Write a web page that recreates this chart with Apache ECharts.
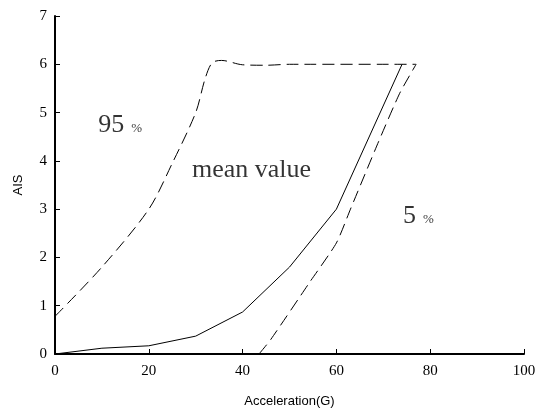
<!DOCTYPE html>
<html><head><meta charset="utf-8">
<script src="https://cdn.jsdelivr.net/npm/echarts@6/dist/echarts.min.js"></script>
<style>html,body{margin:0;padding:0;background:#fff}#c{width:539px;height:414px}</style>
</head><body><div id="c"></div>
<script>
var xTicks = [0, 20, 40, 60, 80, 100];
var yTicks = [0, 1, 2, 3, 4, 5, 6, 7];
var meanValue = [[0,0],[10,0.12],[20,0.17],[30,0.37],[40,0.87],[50,1.8],[60,3.0],[74,6.0]];
var p95 = [[0,0.78],[10,1.8],[20,3.0],[25,3.95],[30,5.0],[32,5.7],[33.5,6.03],[35.5,6.08],[40,5.99],[45,5.98],[50,6.0],[77,6.0]];
var p5 = [[43.5,0],[46,0.3],[54.4,1.5],[60,2.3],[63,3.0],[69,4.4],[73.5,5.4],[77,6.0]];
var annotations = [
  {x: 9.2, y: 4.6, big: '95', small: '%'},
  {x: 29.2, y: 3.66, big: 'mean value', small: ''},
  {x: 74.2, y: 2.71, big: '5', small: '%'}
];

var chart = echarts.init(document.getElementById('c'));
var serif = '"Liberation Serif", "Times New Roman", serif';
var sans = '"Liberation Sans", Arial, sans-serif';
var lineSty = function(t){ return {color:'#000', width:1, type:t}; };
chart.setOption({
  animation: false,
  grid: {left: 55, right: 15, top: 16, bottom: 60},
  xAxis: {
    type: 'value', min: xTicks[0], max: xTicks[xTicks.length-1], interval: 20,
    name: 'Acceleration(G)', nameLocation: 'middle', nameGap: 41,
    nameTextStyle: {fontFamily: sans, fontSize: 13, color: '#000'},
    axisLine: {lineStyle: {color: '#000', width: 2}},
    axisTick: {inside: true, length: 5, lineStyle: {color:'#000', width:1}},
    axisLabel: {fontFamily: serif, fontSize: 15, color: '#000', margin: 10},
    splitLine: {show: false}
  },
  yAxis: {
    type: 'value', min: yTicks[0], max: yTicks[yTicks.length-1], interval: 1,
    name: 'AIS', nameLocation: 'middle', nameGap: 30,
    nameTextStyle: {fontFamily: sans, fontSize: 13, color: '#000'},
    axisLine: {show: true, lineStyle: {color: '#000', width: 2}},
    axisTick: {show: true, inside: true, length: 5, lineStyle: {color:'#000', width:1}},
    axisLabel: {fontFamily: serif, fontSize: 15, color: '#000', margin: 8},
    splitLine: {show: false}
  },
  series: [
    {type: 'line', data: meanValue, symbol: 'none', lineStyle: lineSty('solid'), z: 3},
    {type: 'line', data: p95, symbol: 'none', smooth: 0.3, lineStyle: lineSty([12,6]), z: 3},
    {type: 'line', data: p5, symbol: 'none', smooth: 0.2, lineStyle: lineSty([12,6]), z: 3},
    {type: 'scatter', symbolSize: 0, silent: true,
     data: annotations.map(function(a){ return {value:[a.x,a.y], label:{formatter: '{a|'+a.big+'}' + (a.small ? '{b|'+a.small+'}' : '')}}; }),
     label: {show: true, position: 'inside', align: 'left', verticalAlign: 'bottom', offset: [0, 6],
       rich: {a: {fontFamily: serif, fontSize: 26, color: '#000'}, b: {fontFamily: serif, fontSize: 13, color:'#000', verticalAlign: 'bottom', padding: [0,0,3,7]}}}
    }
  ]
});
</script></body></html>
